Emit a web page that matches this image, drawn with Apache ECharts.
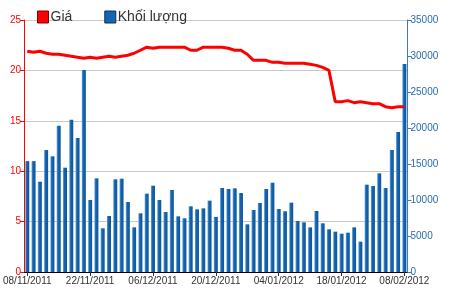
<!DOCTYPE html>
<html>
<head>
<meta charset="utf-8">
<script src="https://cdn.jsdelivr.net/npm/echarts@6/dist/echarts.min.js"></script>
<style>html,body{margin:0;padding:0;background:#fff}#c{width:450px;height:291px}</style>
</head>
<body>
<div id="c"></div>
<script>
var dates = [
 "08/11/2011","09/11/2011","10/11/2011","11/11/2011","14/11/2011","15/11/2011","16/11/2011","17/11/2011","18/11/2011","21/11/2011",
 "22/11/2011","23/11/2011","24/11/2011","25/11/2011","28/11/2011","29/11/2011","30/11/2011","01/12/2011","02/12/2011","05/12/2011",
 "06/12/2011","07/12/2011","08/12/2011","09/12/2011","12/12/2011","13/12/2011","14/12/2011","15/12/2011","16/12/2011","19/12/2011",
 "20/12/2011","21/12/2011","22/12/2011","23/12/2011","26/12/2011","27/12/2011","28/12/2011","29/12/2011","30/12/2011","03/01/2012",
 "04/01/2012","05/01/2012","06/01/2012","09/01/2012","10/01/2012","11/01/2012","12/01/2012","13/01/2012","16/01/2012","17/01/2012",
 "18/01/2012","19/01/2012","20/01/2012","30/01/2012","31/01/2012","01/02/2012","02/02/2012","03/02/2012","06/02/2012","07/02/2012",
 "08/02/2012"
];
var price = [
 21.9,21.8,21.9,21.7,21.6,21.6,21.5,21.4,21.3,21.2,
 21.3,21.2,21.3,21.4,21.3,21.4,21.5,21.7,22.0,22.3,
 22.2,22.3,22.3,22.3,22.3,22.3,22.0,22.0,22.3,22.3,
 22.3,22.3,22.2,22.0,22.0,21.6,21.0,21.0,21.0,20.8,
 20.8,20.7,20.7,20.7,20.7,20.6,20.5,20.3,20.0,16.9,
 16.9,17.0,16.8,16.9,16.8,16.7,16.7,16.4,16.3,16.4,
 16.4
];
var volume = [
 15400,15400,12540,16940,16070,20320,14490,21150,18610,28060,
 10000,13010,6070,7780,12870,12960,9720,6200,8150,10880,
 11990,10000,8330,11390,7730,7450,9120,8700,8840,9910,
 7650,11670,11530,11620,10970,6620,8610,9580,11530,12400,
 8750,8430,9630,7080,6900,6200,8470,6760,5930,5600,
 5320,5460,6200,4210,12130,11940,13700,11670,16940,19440,
 28900
];
var priceTicks = [0,5,10,15,20,25];
var volumeTicks = [0,5000,10000,15000,20000,25000,30000,35000];

var chart = echarts.init(document.getElementById('c'));
chart.setOption({
  animation: false,
  textStyle: {fontFamily: 'Liberation Sans, Arial, sans-serif'},
  legend: {
    left: 32, top: 5,
    itemWidth: 11, itemHeight: 12, itemGap: 32,
    textStyle: {fontSize: 14, color: '#333', padding: [0,0,0,-3]},
    data: [
      {name: 'Giá', icon: 'rect', itemStyle: {color: '#ff0000', borderColor: '#800', borderWidth: 1}},
      {name: 'Khối lượng', icon: 'rect', itemStyle: {color: '#1565b0', borderColor: '#0a3060', borderWidth: 1}}
    ]
  },
  grid: {left: 23.5, right: 42.5, top: 20, bottom: 19, containLabel: false},
  xAxis: [{
    type: 'category', data: dates,
    axisLine: {show: false},
    axisTick: {show: true, alignWithLabel: true, interval: 9, length: 4, lineStyle: {color: '#333'}},
    axisLabel: {interval: 9, fontSize: 10, color: '#333', margin: 4},
    splitLine: {show: false}
  }, {
    type: 'category', data: dates, position: 'top',
    axisLine: {show: true, lineStyle: {color: '#000', width: 1}},
    axisTick: {show: false}, axisLabel: {show: false}
  }],
  yAxis: [{
    type: 'value', min: priceTicks[0], max: priceTicks[priceTicks.length-1], interval: 5,
    position: 'left',
    axisLine: {show: true, lineStyle: {color: '#ff0000', width: 1}},
    axisTick: {show: true, length: 4, lineStyle: {color: '#ff0000'}},
    axisLabel: {fontSize: 10, color: '#ff0000', margin: 3},
    splitLine: {show: true, lineStyle: {color: '#c8c8c8', width: 1}}
  }, {
    type: 'value', min: volumeTicks[0], max: volumeTicks[volumeTicks.length-1], interval: 5000,
    position: 'right',
    axisLine: {show: true, lineStyle: {color: '#3a7cc0', width: 1}},
    axisTick: {show: true, length: 4, lineStyle: {color: '#3a7cc0'}},
    axisLabel: {fontSize: 10, color: '#2a6cb0', margin: 3, formatter: function (v) { return String(v); }},
    splitLine: {show: false}
  }],
  series: [{
    name: 'Khối lượng', type: 'bar', xAxisIndex: 0, yAxisIndex: 1,
    data: volume, barWidth: 4,
    itemStyle: {color: new echarts.graphic.LinearGradient(0,0,1,0,[
      {offset: 0, color: '#6aa6e0'}, {offset: 0.35, color: '#1565b0'}, {offset: 1, color: '#0d569c'}
    ])}
  }, {
    name: 'Giá', type: 'line', xAxisIndex: 0, yAxisIndex: 0,
    data: price, symbol: 'none', smooth: false,
    lineStyle: {color: '#ff0000', width: 3},
    itemStyle: {color: '#ff0000'}
  }]
});
</script>
</body>
</html>
